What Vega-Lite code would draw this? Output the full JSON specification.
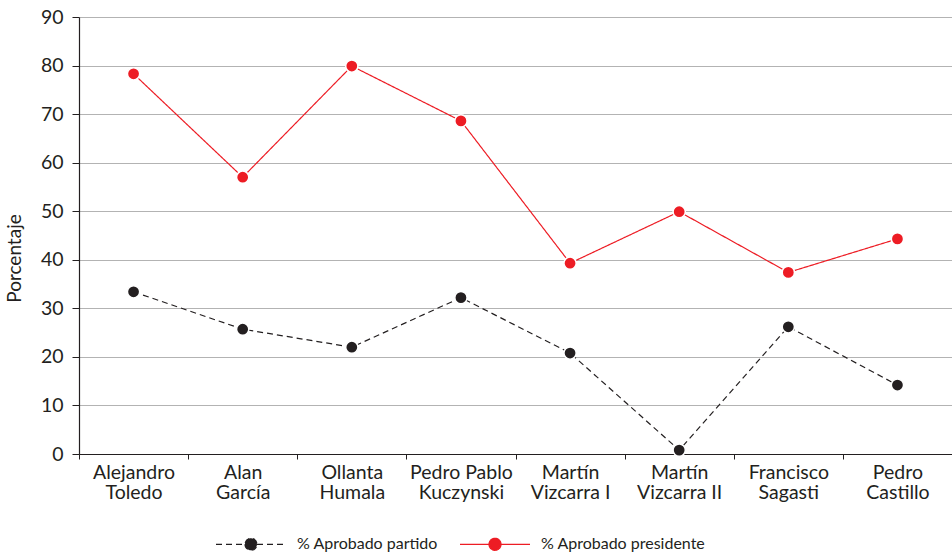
{
  "$schema": "https://vega.github.io/schema/vega-lite/v6.json",
  "autosize": {"type": "none"},
  "width": 873,
  "height": 437,
  "padding": {"left": 79, "top": 17, "right": 0, "bottom": 102},
  "background": "white",
  "config": {
    "font": "Lato",
    "view": {"stroke": null},
    "axis": {"labelFont": "Lato", "labelColor": "#231f20", "titleColor": "#231f20", "domainColor": "#231f20", "tickColor": "#231f20", "titleFont": "Lato", "titleFontWeight": "normal"},
    "legend": {
      "orient": "none",
      "legendX": 136,
      "legendY": 516,
      "direction": "horizontal",
      "title": null,
      "symbolType": "M-1,0H1.9M3.1,0H6M1.9,0A0.6,0.6 0 1,0 3.1,0A0.6,0.6 0 1,0 1.9,0",
      "symbolSize": 400,
      "symbolStrokeWidth": 1.2,
      "symbolOpacity": 1,
      "labelFont": "Lato",
      "labelFontSize": 16,
      "labelColor": "#231f20",
      "labelOffset": 60,
      "columnPadding": 19,
      "labelLimit": 400
    }
  },
  "data": {
    "values": [
      {"presidente": "Alejandro\nToledo", "serie": "% Aprobado partido", "valor": 33.4},
      {"presidente": "Alan\nGarcía", "serie": "% Aprobado partido", "valor": 25.7},
      {"presidente": "Ollanta\nHumala", "serie": "% Aprobado partido", "valor": 22.0},
      {"presidente": "Pedro Pablo\nKuczynski", "serie": "% Aprobado partido", "valor": 32.2},
      {"presidente": "Martín\nVizcarra I", "serie": "% Aprobado partido", "valor": 20.8},
      {"presidente": "Martín\nVizcarra II", "serie": "% Aprobado partido", "valor": 0.8},
      {"presidente": "Francisco\nSagasti", "serie": "% Aprobado partido", "valor": 26.2},
      {"presidente": "Pedro\nCastillo", "serie": "% Aprobado partido", "valor": 14.2},
      {"presidente": "Alejandro\nToledo", "serie": "% Aprobado presidente", "valor": 78.3},
      {"presidente": "Alan\nGarcía", "serie": "% Aprobado presidente", "valor": 57.0},
      {"presidente": "Ollanta\nHumala", "serie": "% Aprobado presidente", "valor": 79.9},
      {"presidente": "Pedro Pablo\nKuczynski", "serie": "% Aprobado presidente", "valor": 68.6},
      {"presidente": "Martín\nVizcarra I", "serie": "% Aprobado presidente", "valor": 39.3},
      {"presidente": "Martín\nVizcarra II", "serie": "% Aprobado presidente", "valor": 49.9},
      {"presidente": "Francisco\nSagasti", "serie": "% Aprobado presidente", "valor": 37.4},
      {"presidente": "Pedro\nCastillo", "serie": "% Aprobado presidente", "valor": 44.3}
    ]
  },
  "encoding": {
    "x": {
      "field": "presidente",
      "type": "nominal",
      "sort": null,
      "scale": {"type": "band", "paddingInner": 0, "paddingOuter": 0},
      "axis": {
        "title": null,
        "labelAngle": 0,
        "labelFontSize": 19.5,
        "labelExpr": "split(datum.label, '\\n')",
        "labelLineHeight": 20,
        "labelPadding": 4,
        "tickBand": "extent",
        "tickSize": 5,
        "domainWidth": 1.2,
        "grid": false,
        "labelBaseline": "top"
      }
    },
    "y": {
      "field": "valor",
      "type": "quantitative",
      "scale": {"domain": [0, 90], "nice": false},
      "axis": {
        "title": "Porcentaje",
        "titleFontSize": 19,
        "titleX": -55,
        "titleY": 241,
        "values": [0, 10, 20, 30, 40, 50, 60, 70, 80, 90],
        "labelFontSize": 19.5,
        "labelPadding": 9,
        "tickSize": 7,
        "domainWidth": 1.2,
        "grid": true,
        "gridColor": "#b3b3b3",
        "gridWidth": 1.2
      }
    },
    "color": {
      "field": "serie",
      "type": "nominal",
      "scale": {"domain": ["% Aprobado partido", "% Aprobado presidente"], "range": ["#231f20", "#ed1c24"]},
      "legend": {
        "encode": {"symbols": {"update": {"fill": {"signal": "scale('color', datum.value)"}}}}
      }
    }
  },
  "layer": [
    {
      "mark": {"type": "line", "strokeWidth": 1.2},
      "encoding": {
        "strokeDash": {
          "field": "serie",
          "type": "nominal",
          "scale": {"domain": ["% Aprobado partido", "% Aprobado presidente"], "range": [[6, 4], [1, 0]]}
        }
      }
    },
    {
      "mark": {"type": "point", "filled": true, "size": 150, "opacity": 1, "stroke": "white", "strokeWidth": 1.5},
      "encoding": {"stroke": {"value": "white"}}
    }
  ]
}
